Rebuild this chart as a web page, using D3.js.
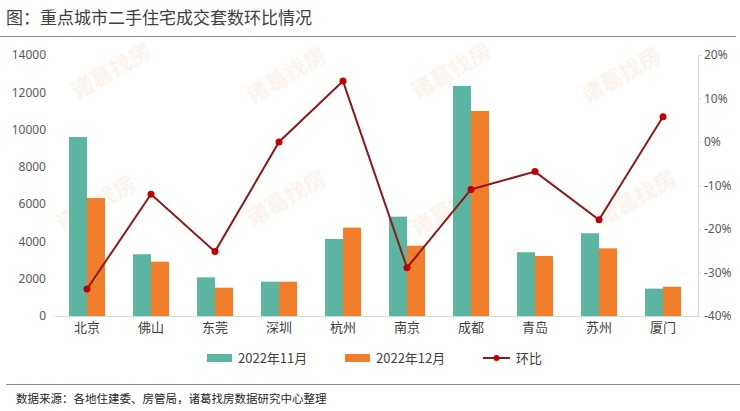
<!DOCTYPE html>
<html lang="zh">
<head>
  <meta charset="UTF-8">
  <title>重点城市二手住宅成交套数环比情况</title>
  <style>
    body {
      margin: 0;
      background: #fff;
      font-family: "Noto Sans CJK SC", "Noto Sans", sans-serif;
    }
    svg { display: block; }
  </style>
</head>
<body>
  <div id="chart"></div>
  <script src="https://d3js.org/d3.v7.min.js"></script>
  <script>
    // Data
    const cities = ["北京", "佛山", "东莞", "深圳", "杭州", "南京", "成都", "青岛", "苏州", "厦门"];
    const nov = [9600, 3310, 2075, 1840, 4130, 5330, 12340, 3420, 4440, 1470];
    const dec = [6330, 2915, 1520, 1840, 4740, 3770, 11000, 3220, 3630, 1570];
    const ratio = [-33.8, -12.0, -25.2, 0.0, 14.0, -28.9, -10.9, -6.8, -17.9, 5.8];
    const leftTicks = [0, 2000, 4000, 6000, 8000, 10000, 12000, 14000];
    const rightTicks = [-40, -30, -20, -10, 0, 10, 20];
    const seriesNames = ["2022年11月", "2022年12月", "环比"];

    const W = 740, H = 411;
    const teal = "#5bb5a0", orange = "#f07e2a", lineColor = "#8b1a1a", dotColor = "#c00000";
    const plot = { left: 55, right: 695, top: 55, bottom: 316 };

    const svg = d3.select("#chart").append("svg")
      .attr("width", W)
      .attr("height", H);

    // Watermarks
    const marks = [[115, 78], [290, 82], [455, 78], [625, 82], [100, 210], [290, 205], [640, 205], [455, 215]];
    svg.selectAll(".wm")
      .data(marks)
      .enter()
      .append("text")
      .attr("class", "wm")
      .attr("transform", d => `translate(${d[0]},${d[1]}) rotate(-30)`)
      .attr("text-anchor", "middle")
      .style("font-size", "22px")
      .style("font-weight", "bold")
      .style("fill", "#fdf1e6")
      .style("opacity", 0.7)
      .text("诸葛找房");

    // Title
    svg.append("text")
      .attr("x", 6)
      .attr("y", 24)
      .style("font-size", "17px")
      .style("fill", "#404040")
      .text("图：重点城市二手住宅成交套数环比情况");

    svg.append("line")
      .attr("x1", 0).attr("x2", 736)
      .attr("y1", 36.5).attr("y2", 36.5)
      .attr("stroke", "#8c8c8c").attr("stroke-width", 1);

    // Scales
    const x = d3.scaleBand()
      .domain(cities)
      .range([plot.left, plot.right]);

    const xInner = d3.scaleBand()
      .domain([0, 1])
      .range([0, 36]);

    const yLeft = d3.scaleLinear()
      .domain([0, 14000])
      .range([plot.bottom, plot.top]);

    const yRight = d3.scaleLinear()
      .domain([-40, 20])
      .range([plot.bottom, plot.top]);

    // Left axis
    svg.append("g")
      .attr("transform", `translate(${plot.left - 3},0)`)
      .call(d3.axisLeft(yLeft).tickValues(leftTicks).tickSize(0).tickPadding(6)
        .tickFormat(d3.format("d")))
      .call(g => g.select(".domain").remove())
      .call(g => g.selectAll("text")
        .style("font-size", "12px")
        .style("fill", "#595959")
        .style("font-family", "'Noto Sans', sans-serif"));

    // Right axis
    svg.append("g")
      .attr("transform", `translate(698,0)`)
      .call(d3.axisRight(yRight).tickValues(rightTicks).tickSize(3).tickPadding(3)
        .tickFormat(d => d + "%"))
      .call(g => g.select(".domain").attr("stroke", "#d9d9d9"))
      .call(g => g.selectAll(".tick line").attr("stroke", "#d9d9d9"))
      .call(g => g.selectAll("text")
        .style("font-size", "12px")
        .style("fill", "#595959")
        .style("font-family", "'Noto Sans', sans-serif"));

    // Bars
    const groups = svg.selectAll(".city")
      .data(cities)
      .enter()
      .append("g")
      .attr("class", "city")
      .attr("transform", d => `translate(${x(d) + (x.bandwidth() - 36) / 2},0)`);

    groups.append("rect")
      .attr("x", xInner(0))
      .attr("width", xInner.bandwidth())
      .attr("y", (d, i) => yLeft(nov[i]))
      .attr("height", (d, i) => yLeft(0) - yLeft(nov[i]))
      .attr("fill", teal);

    groups.append("rect")
      .attr("x", xInner(1))
      .attr("width", xInner.bandwidth())
      .attr("y", (d, i) => yLeft(dec[i]))
      .attr("height", (d, i) => yLeft(0) - yLeft(dec[i]))
      .attr("fill", orange);

    // Baseline
    svg.append("line")
      .attr("x1", plot.left).attr("x2", 698)
      .attr("y1", yLeft(0) + 0.5).attr("y2", yLeft(0) + 0.5)
      .attr("stroke", "#d9d9d9");

    // Category axis labels
    svg.append("g")
      .attr("transform", `translate(0,${plot.bottom})`)
      .call(d3.axisBottom(x).tickSize(0).tickPadding(7))
      .call(g => g.select(".domain").remove())
      .call(g => g.selectAll("text")
        .style("font-size", "13px")
        .style("fill", "#404040")
        .style("font-family", "'Noto Sans CJK SC', sans-serif"));

    // Ratio line
    const line = d3.line()
      .x((d, i) => x(cities[i]) + x.bandwidth() / 2)
      .y(d => yRight(d));

    svg.append("path")
      .datum(ratio)
      .attr("d", line)
      .attr("fill", "none")
      .attr("stroke", lineColor)
      .attr("stroke-width", 2);

    svg.selectAll(".dot")
      .data(ratio)
      .enter()
      .append("circle")
      .attr("class", "dot")
      .attr("cx", (d, i) => x(cities[i]) + x.bandwidth() / 2)
      .attr("cy", d => yRight(d))
      .attr("r", 3.5)
      .attr("fill", dotColor);

    // Legend
    const legend = svg.append("g").attr("transform", "translate(0,358)");
    const legendX = [207, 345, 483];

    legend.append("rect").attr("x", legendX[0]).attr("y", -4).attr("width", 25).attr("height", 8).attr("fill", teal);
    legend.append("rect").attr("x", legendX[1]).attr("y", -4).attr("width", 25).attr("height", 8).attr("fill", orange);
    legend.append("line")
      .attr("x1", legendX[2]).attr("x2", legendX[2] + 27)
      .attr("y1", 0).attr("y2", 0)
      .attr("stroke", lineColor).attr("stroke-width", 2);
    legend.append("circle")
      .attr("cx", legendX[2] + 13.5).attr("cy", 0).attr("r", 3).attr("fill", dotColor);

    legend.selectAll(".ltext")
      .data(seriesNames)
      .enter()
      .append("text")
      .attr("class", "ltext")
      .attr("x", (d, i) => legendX[i] + (i === 2 ? 33 : 31))
      .attr("y", 0)
      .attr("dy", "0.36em")
      .style("font-size", "13px")
      .style("fill", "#404040")
      .text(d => d);

    // Footer
    svg.append("line")
      .attr("x1", 6).attr("x2", 740)
      .attr("y1", 384.5).attr("y2", 384.5)
      .attr("stroke", "#8c8c8c");

    svg.append("text")
      .attr("x", 16)
      .attr("y", 403)
      .style("font-size", "11.5px")
      .style("fill", "#262626")
      .text("数据来源：各地住建委、房管局，诸葛找房数据研究中心整理");
  </script>
</body>
</html>
